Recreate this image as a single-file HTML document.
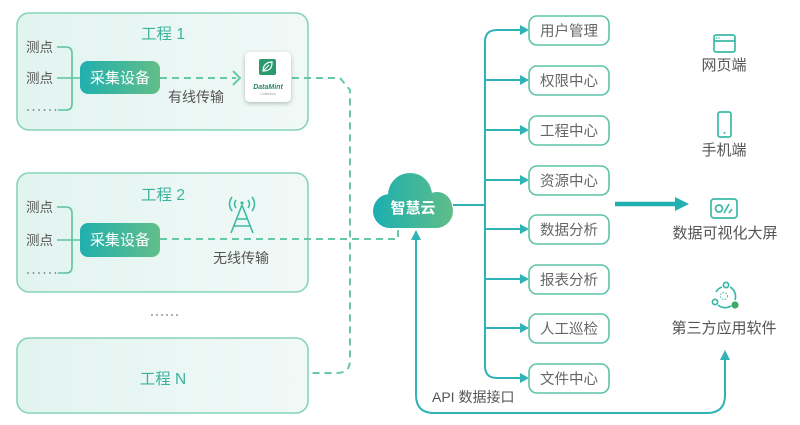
<!DOCTYPE html>
<html><head><meta charset="utf-8"><style>
html,body{margin:0;padding:0;background:#fff;}
svg{display:block;font-family:"Liberation Sans","Noto Sans CJK SC",sans-serif;}
</style></head><body>
<svg width="800" height="425" viewBox="0 0 800 425" xmlns="http://www.w3.org/2000/svg">
<defs>
<linearGradient id="pb" x1="0" y1="0" x2="1" y2="0"><stop offset="0" stop-color="#e2f4f0"/><stop offset="1" stop-color="#f1f9f7"/></linearGradient>
<linearGradient id="dev" x1="0" y1="0" x2="1" y2="0"><stop offset="0" stop-color="#21afae"/><stop offset="1" stop-color="#62be88"/></linearGradient>
<linearGradient id="cl" gradientUnits="userSpaceOnUse" x1="373" y1="0" x2="453" y2="0"><stop offset="0" stop-color="#1cafb0"/><stop offset="1" stop-color="#5fbd88"/></linearGradient>
<filter id="sh" x="-30%" y="-30%" width="160%" height="160%"><feDropShadow dx="0" dy="1.5" stdDeviation="2" flood-color="#000" flood-opacity="0.25"/></filter>
</defs>

<!-- Project boxes -->
<rect x="17" y="13" width="291" height="117" rx="12" fill="url(#pb)" stroke="#86d4b8" stroke-width="1.6"/>
<rect x="17" y="173" width="291" height="119" rx="12" fill="url(#pb)" stroke="#86d4b8" stroke-width="1.6"/>
<rect x="17" y="338" width="291" height="75" rx="12" fill="url(#pb)" stroke="#86d4b8" stroke-width="1.6"/>

<g font-size="15.5" fill="#3cb29c" text-anchor="middle">
<text x="163" y="39">工程 1</text>
<text x="163" y="200">工程 2</text>
<text x="163" y="384">工程 N</text>
</g>

<!-- measure points -->
<g font-size="13.5" fill="#555">
<text x="26" y="52">测点</text>
<text x="26" y="83">测点</text>
<text x="26" y="212">测点</text>
<text x="26" y="245">测点</text>
</g>
<g fill="#777">
<circle cx="28" cy="110" r="0.9"/><circle cx="33.5" cy="110" r="0.9"/><circle cx="39" cy="110" r="0.9"/><circle cx="44.5" cy="110" r="0.9"/><circle cx="50" cy="110" r="0.9"/><circle cx="55.5" cy="110" r="0.9"/>
<circle cx="28" cy="273" r="0.9"/><circle cx="33.5" cy="273" r="0.9"/><circle cx="39" cy="273" r="0.9"/><circle cx="44.5" cy="273" r="0.9"/><circle cx="50" cy="273" r="0.9"/><circle cx="55.5" cy="273" r="0.9"/>
<circle cx="152" cy="315" r="0.9"/><circle cx="157" cy="315" r="0.9"/><circle cx="162" cy="315" r="0.9"/><circle cx="167" cy="315" r="0.9"/><circle cx="172" cy="315" r="0.9"/><circle cx="177" cy="315" r="0.9"/>
</g>
<g fill="none" stroke="#5cc49e" stroke-width="1.6">
<path d="M57,47 H66 Q72,47 72,53 V104 Q72,110 66,110 H58"/>
<path d="M57,78 H80"/>
<path d="M57,207 H66 Q72,207 72,213 V267 Q72,273 66,273 H58"/>
<path d="M57,240 H80"/>
</g>

<!-- devices -->
<rect x="80" y="61" width="80" height="33" rx="8" fill="url(#dev)"/>
<text x="120" y="83" font-size="15" fill="#fff" text-anchor="middle">采集设备</text>
<rect x="80" y="223" width="80" height="34" rx="8" fill="url(#dev)"/>
<text x="120" y="245" font-size="15" fill="#fff" text-anchor="middle">采集设备</text>

<g font-size="14" fill="#555" text-anchor="middle">
<text x="196" y="102">有线传输</text>
<text x="241" y="263">无线传输</text>
</g>

<!-- dashed links -->
<g fill="none" stroke="#66c8a4" stroke-width="2" stroke-dasharray="7 5">
<path d="M160,78 H236"/>
<path d="M292,78 H340 L350,90 V360 Q350,373 337,373 H309"/>
<path d="M160,239 H398 V229"/>
</g>
<path d="M233,71 L240,78 L233,85" fill="none" stroke="#66c8a4" stroke-width="2"/>

<!-- DataMint card -->
<rect x="245" y="52" width="46" height="50" rx="5" fill="#fff" filter="url(#sh)"/>
<rect x="259" y="59" width="17" height="16" rx="2" fill="#2a9a6e"/>
<path d="M263,71 C263,64 268,62 272,62 C272,68 270,71 263,71 Z M263,71 L269,65" fill="none" stroke="#fff" stroke-width="1.2"/>
<text x="268" y="89" font-size="7" font-weight="bold" font-style="italic" fill="#2a8a66" text-anchor="middle">DataMint</text>
<text x="268" y="95" font-size="3.5" fill="#999" text-anchor="middle">Collection</text>

<!-- antenna -->
<g fill="none" stroke="#3fb9a4" stroke-width="1.6">
<path d="M242,205 L231,233 M242,205 L253,233 M236,219 H248 M234,226 L250,226"/>
<path d="M236,200 Q233,204 236,208 M248,200 Q251,204 248,208"/>
<path d="M232,197 Q227,204 232,211 M252,197 Q257,204 252,211"/>
</g>
<circle cx="242" cy="203" r="1.6" fill="#3fb9a4"/>

<!-- cloud -->
<g fill="url(#cl)">
<rect x="373" y="194" width="80" height="34" rx="17"/>
<circle cx="410" cy="195" r="22"/>
<circle cx="437" cy="207" r="15"/>
</g>
<text x="413" y="213" font-size="15" font-weight="bold" fill="#fff" text-anchor="middle">智慧云</text>

<!-- trunk -->
<g fill="none" stroke="#2eb4b6" stroke-width="2">
<path d="M453,205 H485"/>
<path d="M522,30 H497 Q485,30 485,42 V366 Q485,378 497,378 H522"/>
<path d="M485,80 H522 M485,130 H522 M485,180 H522 M485,229 H522 M485,279 H522 M485,328 H522"/>
</g>
<g fill="#2eb4b6">
<path d="M520,25 L529,30 L520,35 Z"/>
<path d="M520,75 L529,80 L520,85 Z"/>
<path d="M520,125 L529,130 L520,135 Z"/>
<path d="M520,175 L529,180 L520,185 Z"/>
<path d="M520,224 L529,229 L520,234 Z"/>
<path d="M520,274 L529,279 L520,284 Z"/>
<path d="M520,323 L529,328 L520,333 Z"/>
<path d="M520,373 L529,378 L520,383 Z"/>
</g>

<!-- function boxes -->
<g fill="#fff" stroke="#5cc3a8" stroke-width="1.6">
<rect x="529" y="16" width="80" height="29" rx="8"/>
<rect x="529" y="66" width="80" height="29" rx="8"/>
<rect x="529" y="116" width="80" height="29" rx="8"/>
<rect x="529" y="166" width="80" height="29" rx="8"/>
<rect x="529" y="215" width="80" height="29" rx="8"/>
<rect x="529" y="265" width="80" height="29" rx="8"/>
<rect x="529" y="314" width="80" height="29" rx="8"/>
<rect x="529" y="364" width="80" height="29" rx="8"/>
</g>
<g font-size="14.5" fill="#666" text-anchor="middle">
<text x="569" y="36">用户管理</text>
<text x="569" y="86">权限中心</text>
<text x="569" y="136">工程中心</text>
<text x="569" y="186">资源中心</text>
<text x="569" y="235">数据分析</text>
<text x="569" y="285">报表分析</text>
<text x="569" y="334">人工巡检</text>
<text x="569" y="384">文件中心</text>
</g>

<!-- API line -->
<path d="M416,238 V395 Q416,413 434,413 H707 Q725,413 725,395 V358" fill="none" stroke="#2eb4b6" stroke-width="2"/>
<path d="M411,240 L416,230 L421,240 Z" fill="#2eb4b6"/>
<path d="M720,360 L725,350 L730,360 Z" fill="#2eb4b6"/>
<text x="432" y="402" font-size="14" fill="#555">API 数据接口</text>

<!-- big arrow -->
<path d="M615,204 H677" stroke="#22b0b0" stroke-width="4.5"/>
<path d="M675,197 L689,204 L675,211 Z" fill="#22b0b0"/>

<!-- right icons -->
<g fill="none" stroke="#3cb9a6" stroke-width="1.7">
<rect x="714" y="35" width="21" height="17" rx="2"/>
<path d="M714,41 H735"/>
<rect x="718" y="112" width="13" height="25" rx="2"/>
<rect x="711" y="199" width="26" height="19" rx="3"/>
<circle cx="719" cy="208.5" r="3.5"/>
<path d="M724,213 L729,204 M729,213 L732,209"/>
<path d="M716,292 A11,11 0 0 1 722,287 M730,287 A11,11 0 0 1 735,300 M718,305 A11,11 0 0 0 731,306"/>
<circle cx="726" cy="285" r="2.6"/>
<circle cx="715" cy="302" r="2.6"/>
<circle cx="724" cy="296" r="3.5" stroke-dasharray="1.5 1.5" stroke-width="1"/>
</g>
<circle cx="716.5" cy="38" r="0.8" fill="#3cb9a6"/>
<circle cx="719" cy="38" r="0.8" fill="#3cb9a6"/>
<circle cx="724.5" cy="133" r="1" fill="#3cb9a6"/>
<circle cx="735" cy="305" r="3.6" fill="#3ea86a"/>

<g font-size="15" fill="#555" text-anchor="middle">
<text x="724" y="70">网页端</text>
<text x="724" y="155">手机端</text>
<text x="725" y="238">数据可视化大屏</text>
<text x="724" y="333">第三方应用软件</text>
</g>
</svg>
</body></html>
